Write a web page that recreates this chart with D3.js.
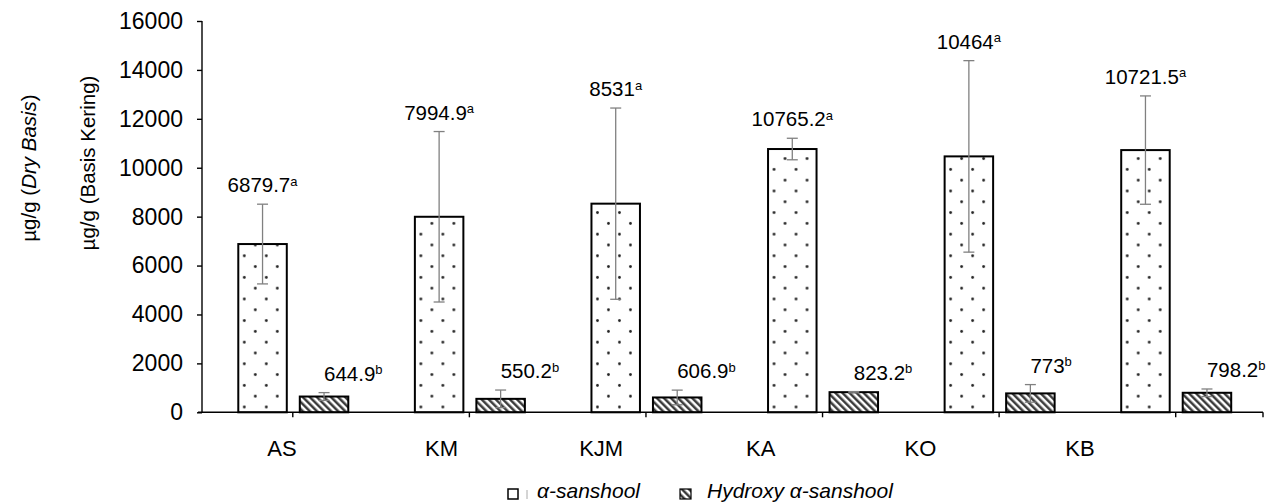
<!DOCTYPE html>
<html>
<head>
<meta charset="utf-8">
<script src="https://cdn.jsdelivr.net/npm/d3@7"></script>
<style>
  body { margin: 0; background: #fff; }
  svg { display: block; font-family: "Liberation Sans", Arial, sans-serif; }
</style>
</head>
<body>
<div id="chart"></div>
<script>
// Sanshool content per sample
const categories = ['AS', 'KM', 'KJM', 'KA', 'KO', 'KB'];
const alphaMean = [6879.7, 7994.9, 8531, 10765.2, 10464, 10721.5];
const alphaSd = [1630, 3485, 3910, 440, 3915, 2215];
const alphaLetter = ['a', 'a', 'a', 'a', 'a', 'a'];
const hydroxyMean = [644.9, 550.2, 606.9, 823.2, 773, 798.2];
const hydroxySd = [160, 360, 300, 25, 360, 155];
const hydroxyLetter = ['b', 'b', 'b', 'b', 'b', 'b'];
const yTicks = [0, 2000, 4000, 6000, 8000, 10000, 12000, 14000, 16000];
const seriesNames = ['α-sanshool', 'Hydroxy α-sanshool'];

const W = 1283, H = 504;

const svg = d3.select('#chart').append('svg')
    .attr('width', W)
    .attr('height', H);

const defs = svg.append('defs');

// dotted fill for alpha bars
const dots = defs.append('pattern')
    .attr('id', 'dots')
    .attr('patternUnits', 'userSpaceOnUse')
    .attr('width', 22)
    .attr('height', 21.6)
    .attr('x', 1)
    .attr('y', 2);
dots.append('rect').attr('width', 22).attr('height', 21.6).attr('fill', '#fff');
dots.append('circle').attr('cx', 5.5).attr('cy', 5.4).attr('r', 1.4).attr('fill', '#222');
dots.append('circle').attr('cx', 16.5).attr('cy', 16.2).attr('r', 1.4).attr('fill', '#222');

// diagonal hatch for hydroxy bars
const hatch = defs.append('pattern')
    .attr('id', 'hatch')
    .attr('patternUnits', 'userSpaceOnUse')
    .attr('width', 5)
    .attr('height', 5)
    .attr('patternTransform', 'rotate(-45)');
hatch.append('rect').attr('width', 5).attr('height', 5).attr('fill', '#fff');
hatch.append('line')
    .attr('x1', 1.3).attr('y1', 0).attr('x2', 1.3).attr('y2', 5)
    .attr('stroke', '#333').attr('stroke-width', 2.4);

const x0 = 202, x1 = 1263;
const y = d3.scaleLinear().domain([0, 16000]).range([412.3, 21]);
const x = d3.scaleBand().domain(categories).range([204.5, 1264]);
const sub = d3.scaleBand().domain(seriesNames).range([-54.5, 55.5]).paddingInner(0.2114);
// category text sits apart from the bars in the original figure
const xLabel = d3.scalePoint().domain(categories).range([282, 1080]);

const center = c => x(c) + x.bandwidth() / 2;

// y axis
const yAxis = svg.append('g')
    .attr('transform', `translate(${x0},0)`)
    .call(d3.axisLeft(y).tickValues(yTicks).tickSize(5).tickPadding(14).tickFormat(d3.format('d')));
yAxis.select('.domain').attr('stroke', '#000').attr('stroke-width', 1.4).attr('d', `M0,${y(16000)}V${y(0)}`);
yAxis.selectAll('.tick line').attr('stroke', '#000').attr('stroke-width', 1.4);
yAxis.selectAll('.tick text').attr('font-size', 23).attr('fill', '#000')
    .attr('font-family', '"Liberation Sans", Arial, sans-serif');

// y titles
const t1 = svg.append('text')
    .attr('transform', 'translate(29,168) rotate(-90)')
    .attr('text-anchor', 'middle')
    .attr('dy', '0.35em')
    .attr('font-size', 20.5);
t1.append('tspan').text('µg/g (');
t1.append('tspan').attr('font-style', 'italic').text('Dry Basis');
t1.append('tspan').text(')');

svg.append('text')
    .attr('transform', 'translate(88,163) rotate(-90)')
    .attr('text-anchor', 'middle')
    .attr('dy', '0.35em')
    .attr('font-size', 20.5)
    .text('µg/g (Basis Kering)');

// rows for drawing
const rows = categories.map((c, i) => ({
    cat: c,
    vals: [
        { s: seriesNames[0], mean: alphaMean[i], sd: alphaSd[i], letter: alphaLetter[i] },
        { s: seriesNames[1], mean: hydroxyMean[i], sd: hydroxySd[i], letter: hydroxyLetter[i] }
    ]
}));

const groups = svg.append('g').selectAll('g')
    .data(rows)
    .enter().append('g')
    .attr('transform', d => `translate(${center(d.cat)},0)`);

groups.selectAll('rect')
    .data(d => d.vals)
    .enter().append('rect')
    .attr('x', d => sub(d.s))
    .attr('y', d => y(d.mean))
    .attr('width', sub.bandwidth())
    .attr('height', d => y(0) - y(d.mean))
    .attr('fill', (d, i) => i === 0 ? 'url(#dots)' : 'url(#hatch)')
    .attr('stroke', '#000')
    .attr('stroke-width', 2);

// error bars
const err = groups.selectAll('g.err')
    .data(d => d.vals)
    .enter().append('g')
    .attr('class', 'err')
    .attr('stroke', '#808080')
    .attr('stroke-width', 1.3);
err.append('line')
    .attr('x1', d => sub(d.s) + sub.bandwidth() / 2)
    .attr('x2', d => sub(d.s) + sub.bandwidth() / 2)
    .attr('y1', d => y(d.mean + d.sd))
    .attr('y2', d => y(Math.max(0, d.mean - d.sd)));
err.selectAll('line.cap')
    .data(d => [d.mean + d.sd, Math.max(0, d.mean - d.sd)].map(v => ({ v, d })))
    .enter().append('line')
    .attr('class', 'cap')
    .attr('x1', e => sub(e.d.s) + sub.bandwidth() / 2 - 5.5)
    .attr('x2', e => sub(e.d.s) + sub.bandwidth() / 2 + 5.5)
    .attr('y1', e => y(e.v))
    .attr('y2', e => y(e.v));

// value labels
const lab = groups.selectAll('text.val')
    .data(d => d.vals)
    .enter().append('text')
    .attr('class', 'val')
    .attr('x', d => sub(d.s) + sub.bandwidth() / 2)
    .attr('y', d => y(d.mean + d.sd) - 12)
    .attr('text-anchor', (d, i) => i === 0 ? 'middle' : 'start')
    .attr('font-size', 20.5)
    .attr('fill', '#000');
lab.append('tspan').text(d => d.mean);
lab.append('tspan').attr('font-size', 13).attr('dy', -6.5).text(d => d.letter);

// x axis
svg.append('line')
    .attr('x1', x0 - 4).attr('x2', x1)
    .attr('y1', y(0)).attr('y2', y(0))
    .attr('stroke', '#000').attr('stroke-width', 1.4);
svg.append('g').selectAll('line')
    .data(categories)
    .enter().append('line')
    .attr('x1', d => center(d)).attr('x2', d => center(d))
    .attr('y1', y(0)).attr('y2', y(0) + 5)
    .attr('stroke', '#000').attr('stroke-width', 1.4);
svg.append('line')
    .attr('x1', x1).attr('x2', x1)
    .attr('y1', y(0)).attr('y2', y(0) + 5)
    .attr('stroke', '#000').attr('stroke-width', 1.4);

svg.append('g').selectAll('text')
    .data(categories)
    .enter().append('text')
    .attr('x', d => xLabel(d))
    .attr('y', 456)
    .attr('text-anchor', 'middle')
    .attr('font-size', 22)
    .text(d => d);

// legend
const leg = svg.append('g').attr('font-size', 21).attr('font-style', 'italic');
leg.append('rect').attr('x', 508).attr('y', 489).attr('width', 10).attr('height', 10)
    .attr('fill', '#fff').attr('stroke', '#000').attr('stroke-width', 1.5);
leg.append('line').attr('x1', 527).attr('x2', 527).attr('y1', 490).attr('y2', 499)
    .attr('stroke', '#aaa').attr('stroke-width', 1);
leg.append('text').attr('x', 537).attr('y', 498).text(seriesNames[0]);
leg.append('rect').attr('x', 680).attr('y', 489).attr('width', 11).attr('height', 10)
    .attr('fill', 'url(#hatch)').attr('stroke', '#000').attr('stroke-width', 1.2);
leg.append('text').attr('x', 707).attr('y', 498).text(seriesNames[1]);
</script>
</body>
</html>
